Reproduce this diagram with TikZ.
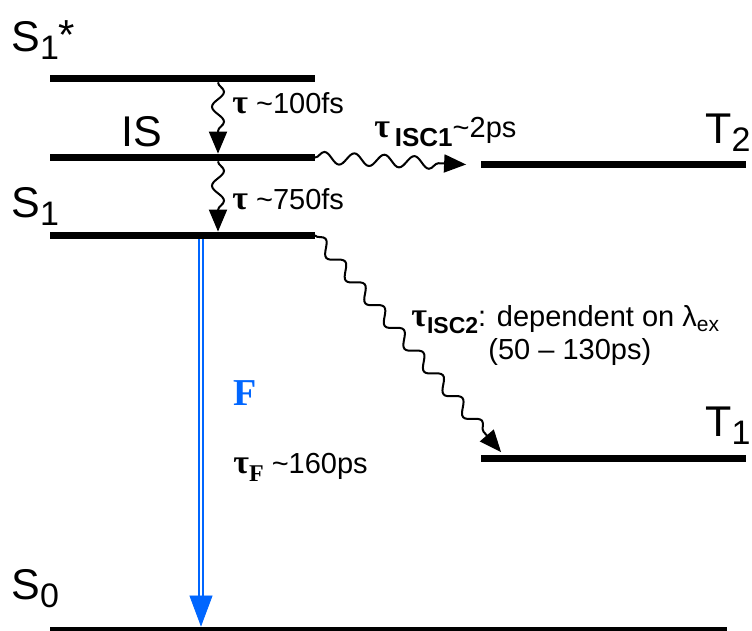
\documentclass[tikz,border=0pt]{standalone}
\usepackage{fontspec}
\setmainfont{Liberation Sans}
\newfontfamily\serifgr{Liberation Serif}
\usetikzlibrary{arrows.meta,decorations.pathmorphing}
\definecolor{fluoblue}{RGB}{0,102,255}

\newcommand{\tauB}{{\serifgr\bfseries\fontsize{17}{17}\selectfont τ}}
\newcommand{\lowsub}[3]{\raisebox{-#1}{\fontsize{#2}{#2}\selectfont #3}}

\begin{document}
\begin{tikzpicture}[x=0.5pt, y=-0.5pt,
    level/.style={fill=black, inner sep=0pt, minimum height=3.5pt, minimum width=132.5pt},
    statelabel/.style={inner sep=0pt, anchor=west, font=\fontsize{21.5}{24}\selectfont},
    ratelabel/.style={inner sep=0pt, anchor=west, font=\fontsize{14.5}{17}\selectfont},
    wave/.style={line width=1pt, -{Triangle[length=11pt, width=9pt]}, decorate,
      decoration={snake, amplitude=3pt, segment length=15pt, post length=10pt}},
    fluoline/.style={draw=fluoblue, line width=1.1pt, double=white, double distance=1.2pt},
    fluotip/.style={draw=fluoblue, fill=fluoblue, line width=0.4pt, -{Triangle[length=15.5pt, width=11.5pt]}}]
  \useasboundingbox (0,0) rectangle (752,631);
  % energy levels
  \node[level] (sstar) at (182,78.5) {};
  \node[level] (is) at (182,157.5) {};
  \node[level] (s1) at (182,235.5) {};
  \node[level] (t2) at (613,164.5) {};
  \node[level] (t1) at (613,459) {};
  \node[level, minimum width=338.5pt] (s0) at (388.5,630.5) {};
  % state names
  \node[statelabel] (lsstar) at (11,40) {S\lowsub{4pt}{17}{1}\raisebox{1pt}{\fontsize{21}{21}\selectfont *}};
  \node[statelabel] (lis) at (121,132) {IS};
  \node[statelabel] (ls1) at (11,206) {S\lowsub{4pt}{17}{1}};
  \node[statelabel] (ls0) at (11,589) {S\lowsub{4pt}{17}{0}};
  \node[statelabel] (lt2) at (705,133) {T\lowsub{4pt}{17}{2}};
  \node[statelabel] (lt1) at (705,426) {T\lowsub{4pt}{17}{1}};
  % relaxation within the singlet manifold
  \coordinate (relaxcol) at (218,0);
  \draw[wave] (sstar.south -| relaxcol) -- (is.north -| relaxcol);
  \draw[wave] (is.south -| relaxcol) -- (s1.north -| relaxcol);
  \node[ratelabel] (r1) at (232,103) {\tauB\ \textasciitilde100fs};
  \node[ratelabel] (r2) at (232,199) {\tauB\ \textasciitilde750fs};
  % intersystem crossing
  \draw[wave] (is.east) -- ([xshift=-7pt]t2.west);
  \draw[wave] (s1.east) -- ([xshift=10.5pt,yshift=1.5pt]t1.north west);
  \node[ratelabel] (isc1) at (374,132) {\tauB\,\lowsub{4.5pt}{13}{\bfseries ISC1}\textasciitilde2ps};
  \node[ratelabel] (isc2) at (411,320) {\tauB\lowsub{3.5pt}{11.5}{\bfseries ISC2}: dependent on λ\lowsub{2.5pt}{10.5}{ex}};
  \node[ratelabel] (isc2b) at (488,352) {(50 -- 130ps)};
  % fluorescence
  \coordinate (fcol) at (201,0);
  \coordinate (fbase) at (201,596);
  \draw[fluoline] (s1.south -| fcol) -- (fbase);
  \draw[fluotip] (fbase) -- (s0.north -| fcol);
  \node[ratelabel, font=\fontsize{19}{19}\selectfont\serifgr\bfseries, text=fluoblue] (flabel) at (233,393) {F};
  \node[ratelabel] (tauf) at (233,467) {\tauB\lowsub{4pt}{12}{\serifgr\bfseries F}\ \textasciitilde160ps};
\end{tikzpicture}
\end{document}
